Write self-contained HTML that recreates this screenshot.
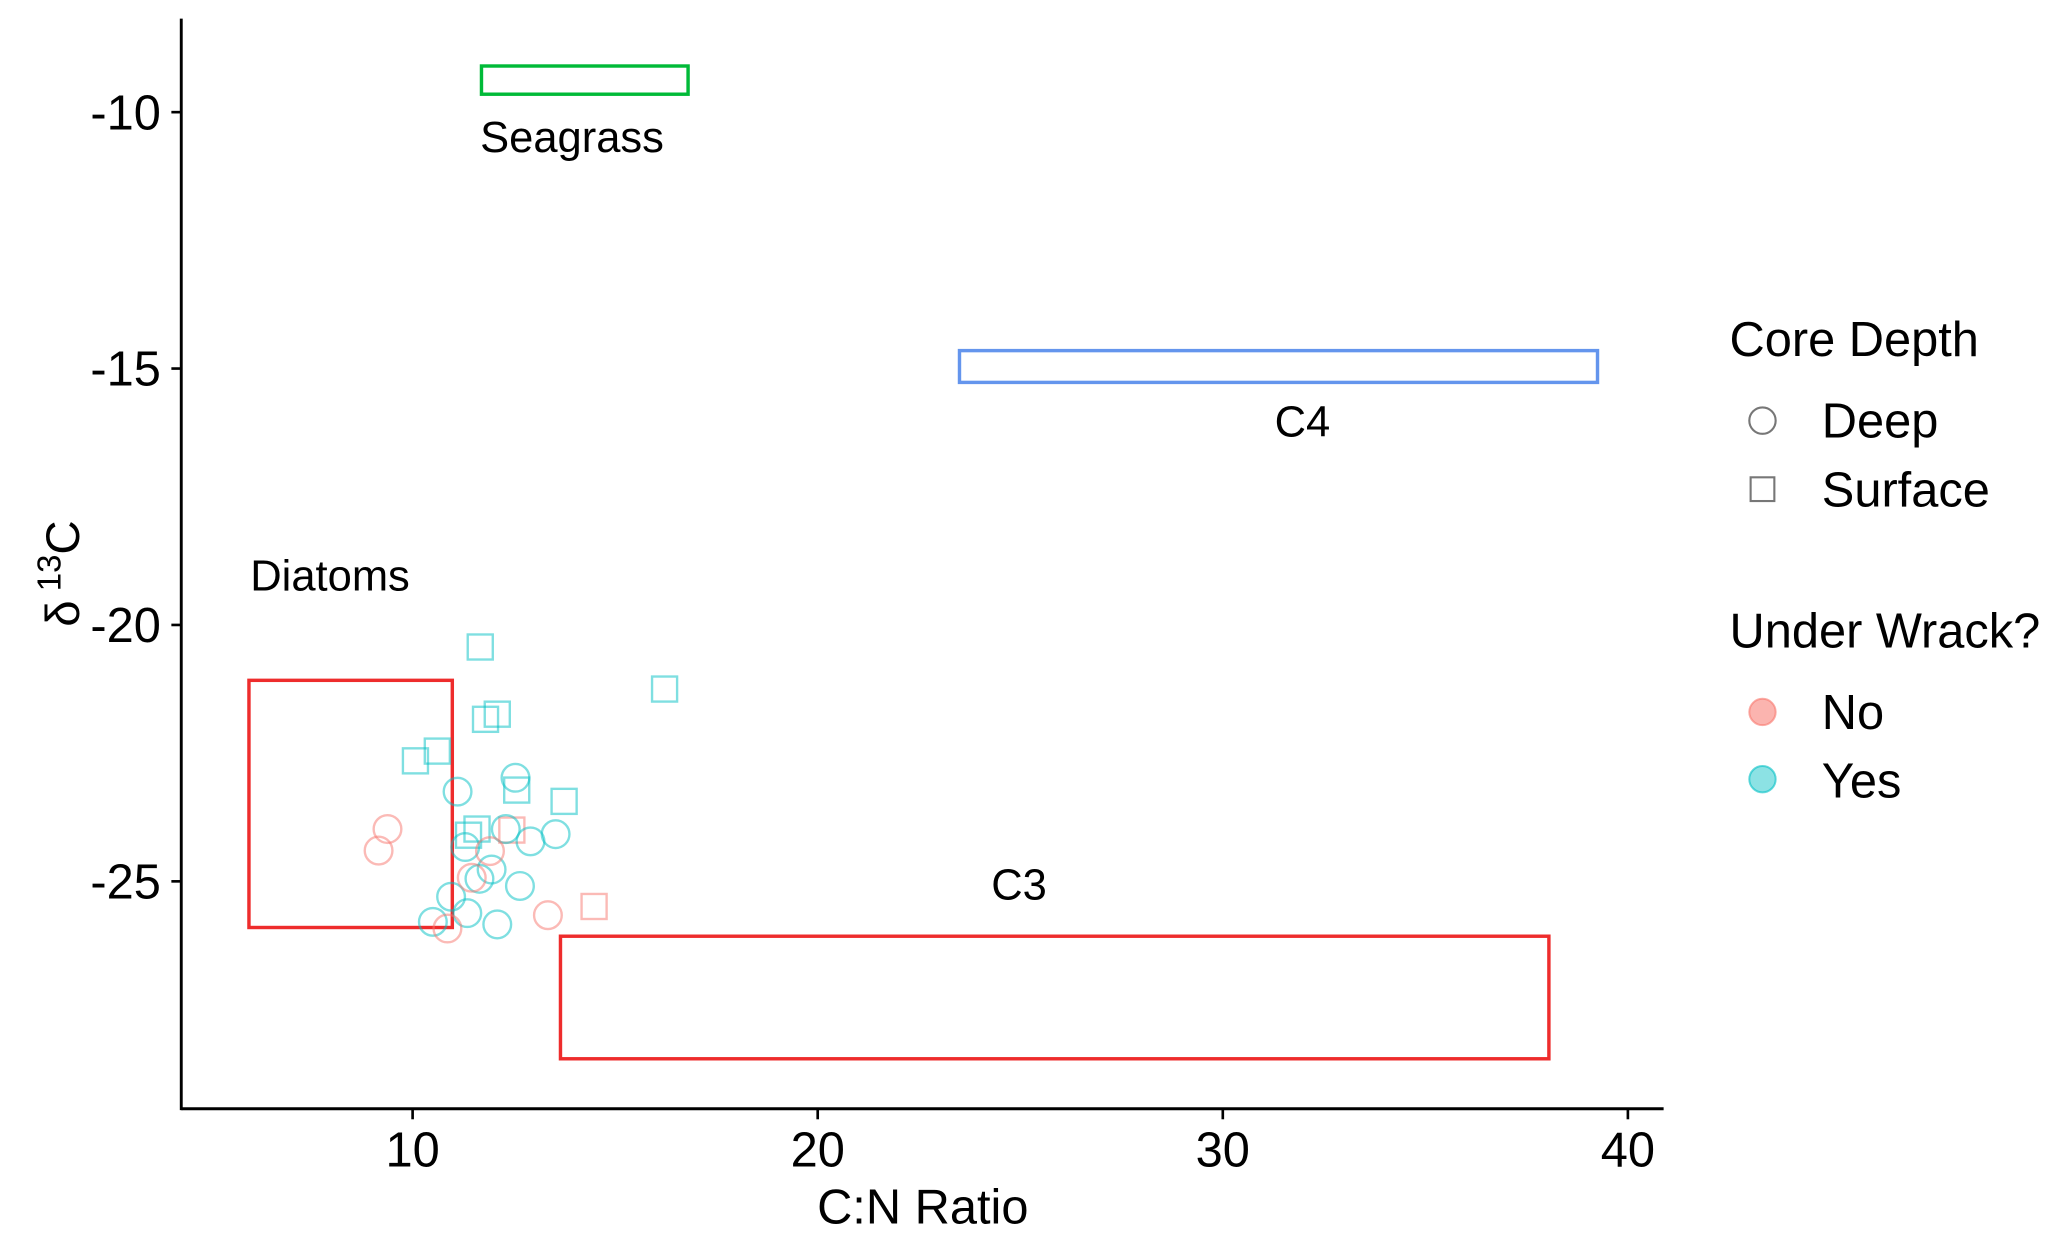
<!DOCTYPE html>
<html><head><meta charset="utf-8"><style>
html,body{margin:0;padding:0;background:#fff}
svg{display:block;font-family:"Liberation Sans",Arial,sans-serif}
</style></head><body>
<svg id="chart" width="2067" height="1242" viewBox="0 0 1568 942" xmlns="http://www.w3.org/2000/svg">
<g id="regions"></g>
<g id="points"></g>
<g id="axes"></g>
<text x="700" y="928" font-size="37" text-anchor="middle">C:N Ratio</text>
<text transform="translate(60,435) rotate(-90)" font-size="36" text-anchor="middle">δ<tspan font-size="25" dy="-14"> 13</tspan><tspan dy="14">C</tspan></text>
<g>
<text x="1312" y="270" font-size="37">Core Depth</text>
<circle cx="1337" cy="319" r="10" fill="none" stroke="#777" stroke-width="1.6"/>
<text x="1382" y="332" font-size="37">Deep</text>
<rect x="1328" y="362" width="18" height="18" fill="none" stroke="#777" stroke-width="1.6"/>
<text x="1382" y="384" font-size="37">Surface</text>
<text x="1312" y="491" font-size="37">Under Wrack?</text>
<circle cx="1337" cy="540" r="10" fill="#F8766D" fill-opacity="0.55" stroke="#F8766D" stroke-opacity="0.6" stroke-width="1.5"/>
<text x="1382" y="553" font-size="37">No</text>
<circle cx="1337" cy="591" r="10" fill="#00BFC4" fill-opacity="0.45" stroke="#00BFC4" stroke-opacity="0.6" stroke-width="1.5"/>
<text x="1382" y="605" font-size="37">Yes</text>
</g>
</svg>
<script>
const xTicks = [10, 20, 30, 40];
const yTicks = [-10, -15, -20, -25];
const regionNames = ["Seagrass", "C4", "Diatoms", "C3"];
const regionX0 = [11.7, 23.5, 5.96, 13.65];
const regionX1 = [16.8, 39.25, 10.98, 38.05];
const regionY0 = [-9.1, -14.65, -21.08, -26.07];
const regionY1 = [-9.65, -15.27, -25.9, -28.46];
const regionColors = ["#00BA38", "#6495ED", "#EE2C2C", "#EE2C2C"];
const ptX = [11.67,16.22,11.80,12.09,10.07,10.61,12.57,13.74,11.59,11.38,12.45,14.48,
 11.11,12.54,12.30,12.91,13.53,11.30,11.95,11.65,12.65,10.95,11.35,10.50,12.09,
 9.38,9.16,11.91,11.46,13.34,10.86];
const ptY = [-20.43,-21.25,-21.84,-21.74,-22.65,-22.46,-23.22,-23.44,-23.98,-24.10,-24.00,-25.49,
 -23.25,-22.98,-23.98,-24.22,-24.08,-24.33,-24.77,-24.95,-25.09,-25.30,-25.62,-25.79,-25.84,
 -23.98,-24.40,-24.41,-24.93,-25.66,-25.92];
const ptDepth = ["S","S","S","S","S","S","S","S","S","S","S","S",
 "D","D","D","D","D","D","D","D","D","D","D","D","D","D","D","D","D","D","D"];
const ptWrack = ["Y","Y","Y","Y","Y","Y","Y","Y","Y","Y","N","N",
 "Y","Y","Y","Y","Y","Y","Y","Y","Y","Y","Y","Y","Y","N","N","N","N","N","N"];

const NS = "http://www.w3.org/2000/svg";
const xs = v => 313 + (v - 10) * 30.73;
const ys = v => 85 + (-10 - v) * 38.9;
function mk(tag, attrs, parent){const e=document.createElementNS(NS,tag);for(const k in attrs)e.setAttribute(k,attrs[k]);parent.appendChild(e);return e;}

const gR = document.getElementById('regions');
const labelPos = [
 {x:i=>xs(regionX0[i])-1, y:i=>ys(regionY1[i])+44, a:"start"},
 {x:i=>988, y:i=>ys(regionY1[i])+41, a:"middle"},
 {x:i=>xs(regionX0[i])+1, y:i=>ys(regionY0[i])-68, a:"start"},
 {x:i=>773, y:i=>ys(regionY0[i])-28, a:"middle"}
];
regionNames.forEach((n,i)=>{
  const x0=xs(regionX0[i]), x1=xs(regionX1[i]), y0=ys(regionY0[i]), y1=ys(regionY1[i]);
  const r = mk('rect',{x:Math.min(x0,x1),y:Math.min(y0,y1),width:Math.abs(x1-x0),height:Math.abs(y1-y0),fill:'none',stroke:regionColors[i],'stroke-width':2.6},gR);
  
  
  const t = mk('text',{x:labelPos[i].x(i),y:labelPos[i].y(i),'font-size':33,'text-anchor':labelPos[i].a},gR);
  t.textContent = n;
  
  
});

const gP = document.getElementById('points');
ptX.forEach((v,i)=>{
  const c = ptWrack[i]==="Y" ? "#00BFC4" : "#F8766D";
  const cx = xs(v), cy = ys(ptY[i]);
  let e;
  if(ptDepth[i]==="D") e = mk('circle',{cx:cx,cy:cy,r:10.5,fill:'none',stroke:c,'stroke-opacity':0.5,'stroke-width':1.8},gP);
  else e = mk('rect',{x:cx-9.5,y:cy-9.5,width:19,height:19,fill:'none',stroke:c,'stroke-opacity':0.5,'stroke-width':1.8},gP);
  
  
});

const gA = document.getElementById('axes');
const xa = mk('line',{x1:137.5,y1:841,x2:1262,y2:841,stroke:'#000','stroke-width':2.2},gA);


const ya = mk('line',{x1:137.5,y1:14,x2:137.5,y2:842,stroke:'#000','stroke-width':2.2},gA);


xTicks.forEach(v=>{
  mk('line',{x1:xs(v),y1:841,x2:xs(v),y2:849,stroke:'#000','stroke-width':2},gA);
  const t = mk('text',{x:xs(v),y:885,'font-size':37,'text-anchor':'middle',fill:'#000'},gA);
  t.textContent = v;
  
  
});
yTicks.forEach(v=>{
  mk('line',{x1:130,y1:ys(v),x2:137.5,y2:ys(v),stroke:'#000','stroke-width':2},gA);
  const t = mk('text',{x:122,y:ys(v)+13,'font-size':37,'text-anchor':'end',fill:'#000'},gA);
  t.textContent = v;
  
  
});
</script>
</body></html>
